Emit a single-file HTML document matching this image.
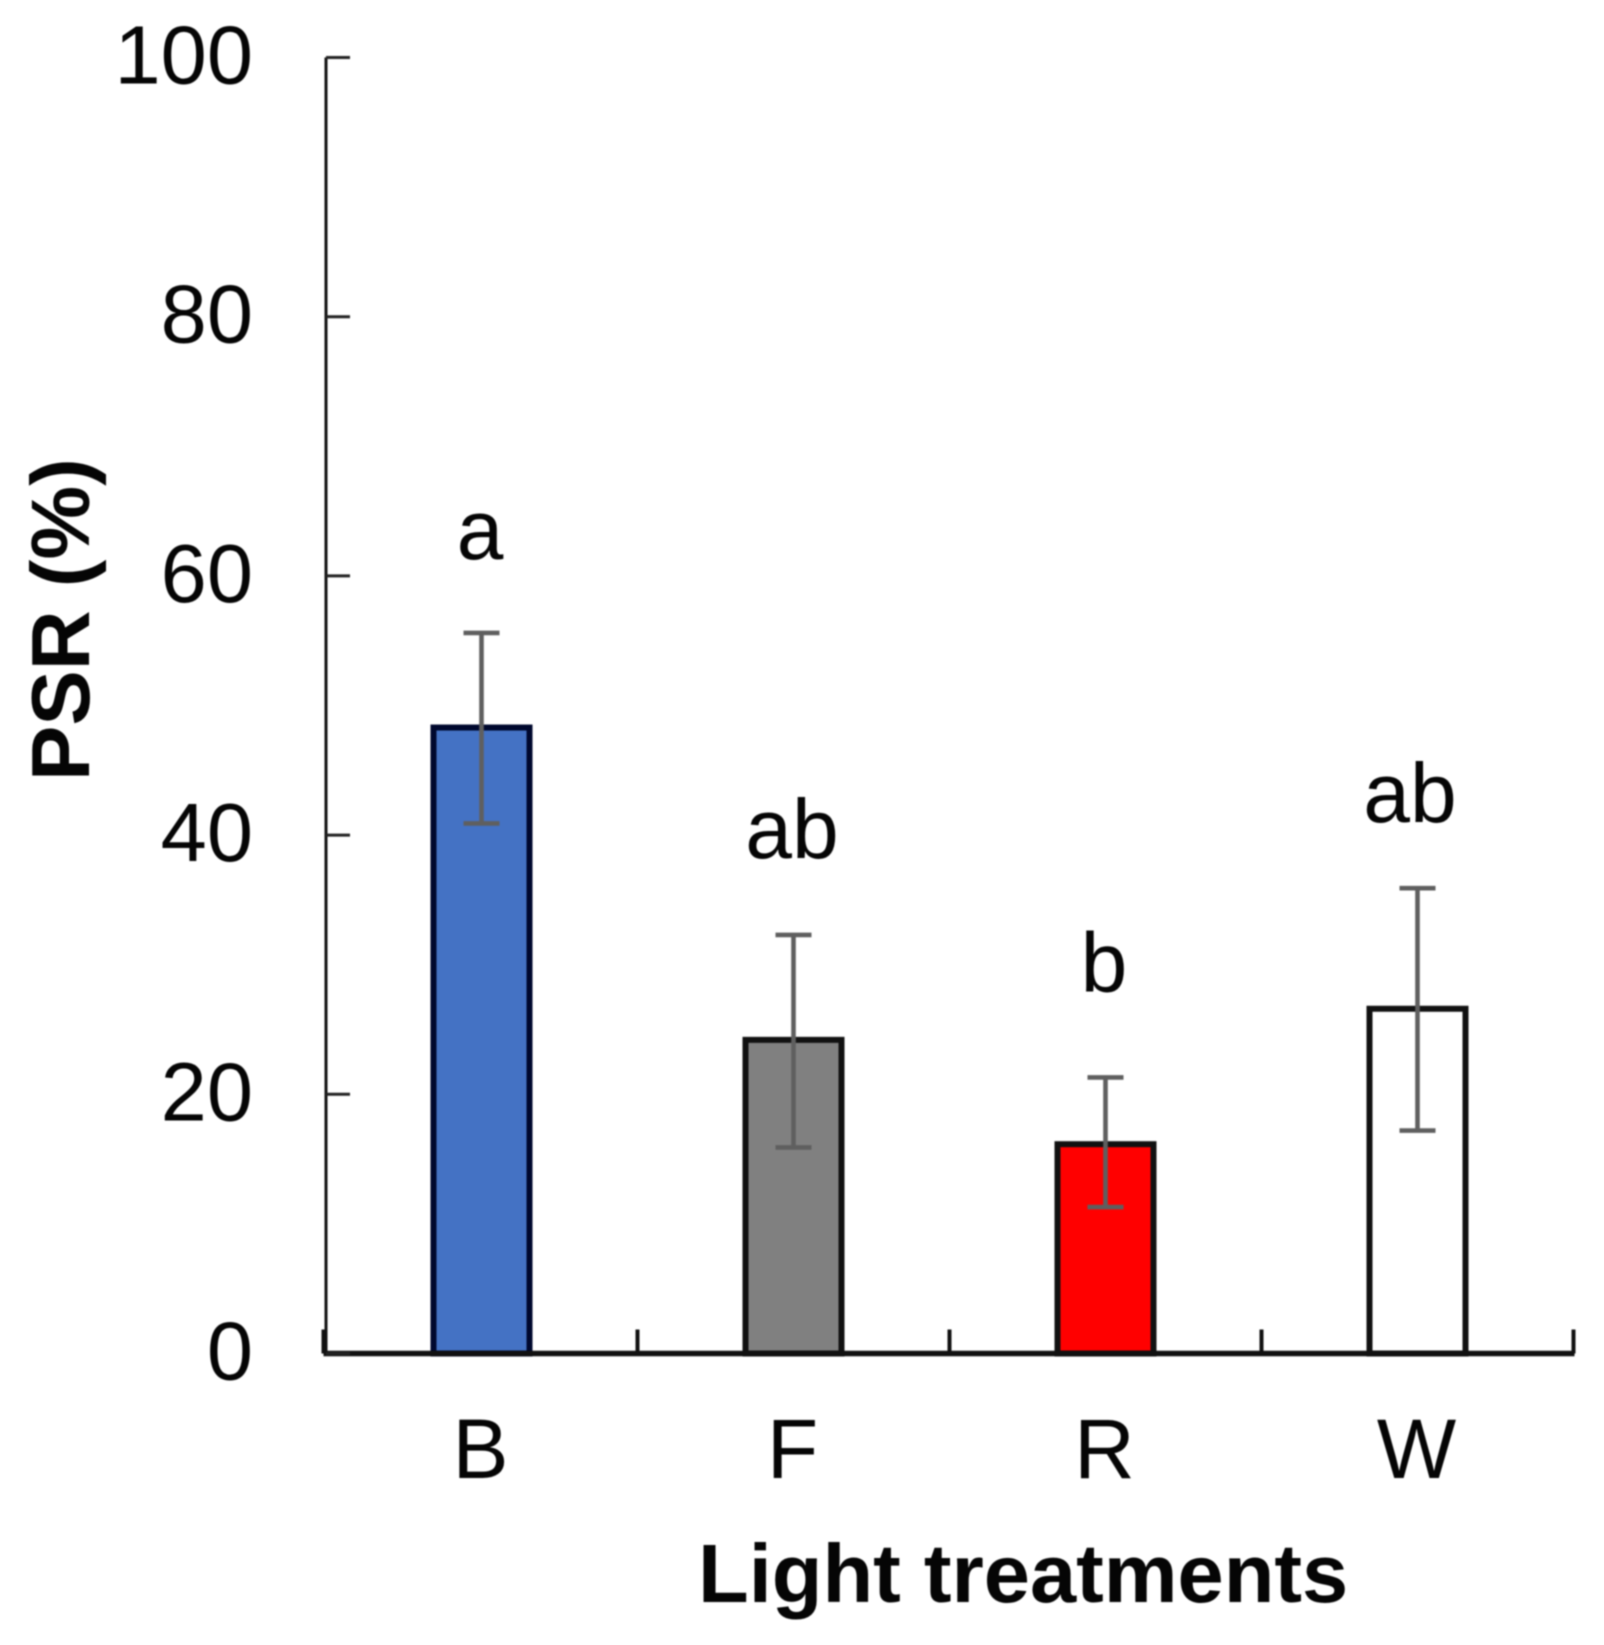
<!DOCTYPE html>
<html lang="en">
<head>
<meta charset="utf-8">
<title>PSR by light treatment</title>
<style>
html,body{margin:0;padding:0;background:#fff;width:1604px;height:1645px;overflow:hidden}
svg{display:block;filter:blur(0.8px)}
text{font-family:"Liberation Sans",Arial,sans-serif;fill:#050505}
</style>
</head>
<body>
<svg id="chart" xmlns="http://www.w3.org/2000/svg" width="1604" height="1645" viewBox="0 0 1604 1645">
<rect x="0" y="0" width="1604" height="1645" fill="#fff"/>
<text transform="translate(89,781) rotate(-90)" font-size="83" font-weight="700">PSR (%)</text>
<text x="698" y="1602" font-size="83" font-weight="700">Light treatments</text>
</svg>
<script>
const categories = ['B', 'F', 'R', 'W'];
const psrValues = [48.3, 24.2, 16.15, 26.6];
const errorHigh = [55.6, 32.3, 21.3, 35.9];
const errorLow = [40.9, 15.9, 11.3, 17.2];
const significance = ['a', 'ab', 'b', 'ab'];
const significanceLevels = [61.2, 38.1, 27.8, 40.9];
const yTicks = [0, 20, 40, 60, 80, 100];
const barFills = ['#4472c4', '#808080', '#ff0000', '#ffffff'];
const barStrokes = ['#00082e', '#111111', '#111111', '#111111'];

const svg = document.getElementById('chart');
const NS = 'http://www.w3.org/2000/svg';
const yScale = v => 1353.5 - v * 12.96;
const xEdge = i => 325.5 + 312 * i;
const xCenter = i => xEdge(i + 0.5);

function make(tag, attrs) {
  const el = document.createElementNS(NS, tag);
  Object.keys(attrs).forEach(k => el.setAttribute(k, attrs[k]));
  svg.appendChild(el);
  return el;
}

categories.forEach((cat, i) => {
  const bar = make('rect', {
    x: xCenter(i) - 48,
    y: yScale(psrValues[i]),
    width: 96,
    height: yScale(0) - yScale(psrValues[i]),
    fill: barFills[i],
    stroke: barStrokes[i],
    'stroke-width': 6
  });
  
  
});

const yAxis = make('line', { x1: 326, x2: 326, y1: yScale(100), y2: yScale(0) + 2, stroke: '#111', 'stroke-width': 3 });



const xAxis = make('line', { x1: xEdge(0) - 2, x2: xEdge(categories.length) + 1, y1: yScale(0), y2: yScale(0), stroke: '#111', 'stroke-width': 5.5 });



yTicks.forEach(t => {
  const tick = make('line', { x1: 326, x2: 350, y1: yScale(t), y2: yScale(t), stroke: '#222', 'stroke-width': 3 });
  
  
  const label = make('text', { x: 253, y: yScale(t) + 26, 'font-size': 83, 'text-anchor': 'end' });
  label.textContent = String(t);
  
  
});

for (let i = 0; i <= categories.length; i++) {
  const off = i === 0 ? -2 : 0;
  const tick = make('line', { x1: xEdge(i) + off, x2: xEdge(i) + off, y1: yScale(0), y2: yScale(0) - 24, stroke: '#111', 'stroke-width': 4 });
  
  
}

categories.forEach((cat, i) => {
  const cx = xCenter(i);
  const stem = make('line', { x1: cx, x2: cx, y1: yScale(errorHigh[i]), y2: yScale(errorLow[i]), stroke: '#5f5f5f', 'stroke-width': 4.6 });
  
  
  const capTop = make('line', { x1: cx - 18, x2: cx + 18, y1: yScale(errorHigh[i]), y2: yScale(errorHigh[i]), stroke: '#5f5f5f', 'stroke-width': 4.6 });
  
  
  const capLow = make('line', { x1: cx - 18, x2: cx + 18, y1: yScale(errorLow[i]), y2: yScale(errorLow[i]), stroke: '#5f5f5f', 'stroke-width': 4.6 });
  
  

  const catLabel = make('text', { x: cx - 1, y: 1478, 'font-size': 84, 'text-anchor': 'middle' });
  catLabel.textContent = cat;
  
  

  const nudge = i === categories.length - 1 ? -6 : 0;
  const sig = make('text', { x: cx - 1.5 + nudge, y: yScale(significanceLevels[i]) - 1.5, 'font-size': 84, 'text-anchor': 'middle' });
  sig.textContent = significance[i];
  
  
});
</script>
</body>
</html>
